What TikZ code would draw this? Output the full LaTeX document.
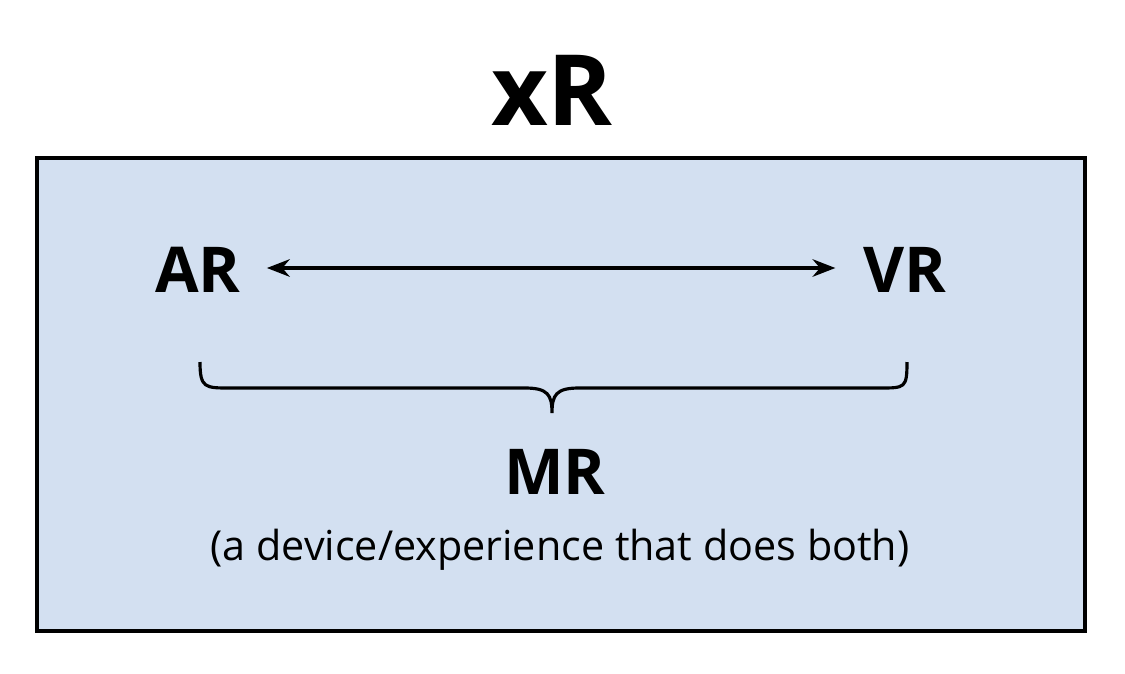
\documentclass[tikz,border=0pt]{standalone}
\usepackage{fontspec}
\setmainfont{Open Sans}
\usetikzlibrary{arrows.meta,calc}
\definecolor{boxblue}{HTML}{D3E0F1}
\begin{document}
\begin{tikzpicture}[x=0.02cm,y=-0.02cm,
  big/.style={font=\fontsize{36}{40}\selectfont\bfseries},
  link/.style={line width=1.8pt,{Stealth[length=13pt,width=10pt]}-{Stealth[length=13pt,width=10pt]}}]
\useasboundingbox (0,0) rectangle (1125,673);
\draw[line width=1.8pt,fill=boxblue] (37,158) rectangle (1085,631);
\node[font=\fontsize{56}{60}\selectfont\bfseries] (t) at (552,90) {xR};
\node[big] (ar) at (198,270) {AR};
\node[big] (vr) at (905,270) {VR};
\coordinate (a1) at ($(ar.east)+(20,-2)$);
\coordinate (v1) at ($(vr.west)+(-22,-2)$);
\draw[link] (a1) -- (v1);
\draw[line width=1.8pt] (200,362) .. controls (200,388) and (205,388) .. (230,388) -- (525,388)
  .. controls (548,388) and (552,395) .. (552,413)
  .. controls (552,395) and (556,388) .. (579,388) -- (880,388)
  .. controls (905,388) and (907,388) .. (907,362);
\node[big] (mr) at (555,472) {MR};
\node[font=\fontsize{23.5}{28}\selectfont] (sub) at (560,550) {(a device/experience that does both)};
\end{tikzpicture}
\end{document}
